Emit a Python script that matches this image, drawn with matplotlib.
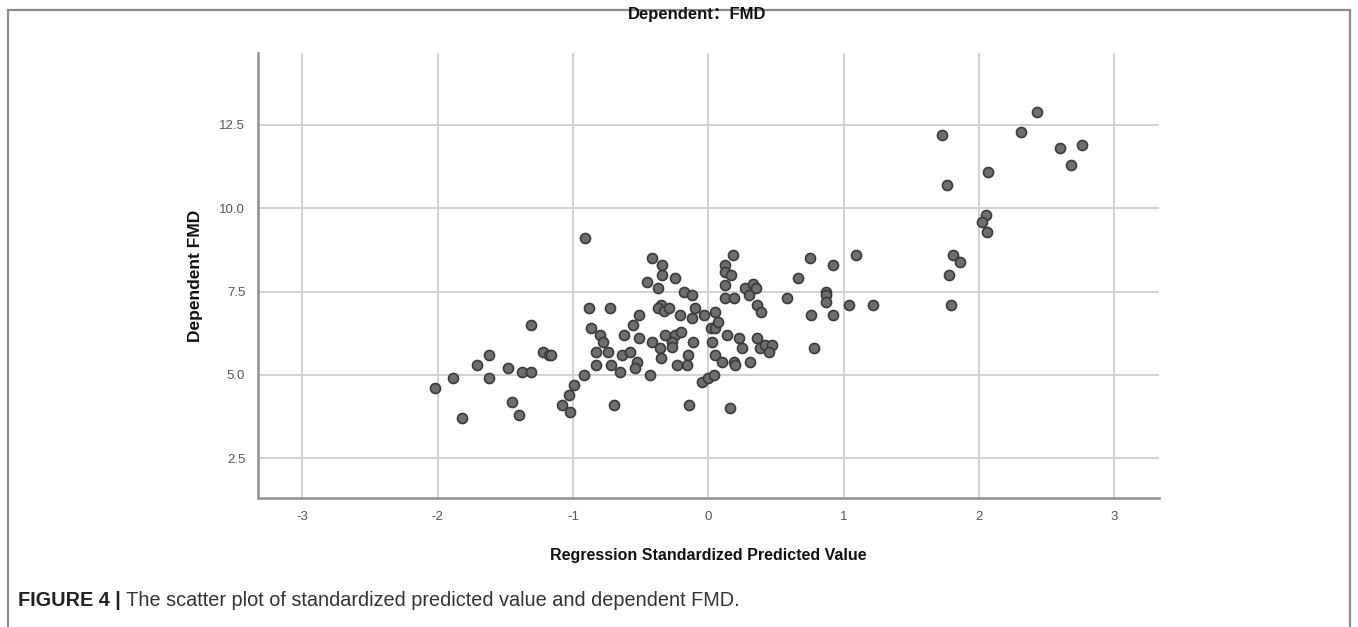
import matplotlib
matplotlib.use("Agg")
import matplotlib.pyplot as plt
from matplotlib.patches import Rectangle

# ---- data ----
pred_x = [
    -2.02, -1.89, -1.82, -1.71, -1.62, -1.62, -1.48, -1.45, -1.40, -1.38,
    -1.31, -1.31, -1.22, -1.18, -1.16, -1.08, -1.03, -1.02, -0.99, -0.92,
    -0.88, -0.87, -0.83, -0.83, -0.80, -0.78, -0.74, -0.73, -0.72, -0.70,
    -0.91,
    -0.42, -0.34, -0.34, -0.25, -0.45, -0.37, -0.18, -0.12, -0.35, -0.37,
    -0.33, -0.29, -0.10, -0.51, -0.21, -0.12, -0.03, 0.05, -0.56, -0.62,
    -0.51, -0.42, -0.32, -0.25, -0.20, -0.27, -0.27, -0.11, 0.02, 0.05,
    0.03, -0.36, -0.64, -0.58, -0.35, -0.15, -0.53, -0.54, -0.65, -0.43,
    -0.23, -0.16, 0.05, -0.05, 0.00, 0.04, -0.14,
    0.18, 0.12, 0.12, 0.17, 0.12, 0.75, 0.66, 0.27, 0.33, 0.35,
    0.30, 0.12, 0.19, 0.58, 0.36, 0.39, 0.07, 0.76, 0.14, 0.23,
    0.36, 0.25, 0.38, 0.42, 0.47, 0.45, 0.78, 0.10, 0.19, 0.20,
    0.31, 0.16,
    1.09, 0.92, 0.87, 0.87, 0.87, 1.04, 1.22, 0.92,
    2.43, 1.73, 2.31, 2.60, 2.76, 2.68, 2.07, 1.76, 2.05, 2.02,
    2.06, 1.81, 1.86, 1.78, 1.79,
]
fmd_y = [
    4.6, 4.9, 3.7, 5.3, 5.6, 4.9, 5.2, 4.2, 3.8, 5.1,
    5.1, 6.5, 5.7, 5.6, 5.6, 4.1, 4.4, 3.9, 4.7, 5.0,
    7.0, 6.4, 5.7, 5.3, 6.2, 6.0, 5.7, 7.0, 5.3, 4.1,
    9.1,
    8.5, 8.3, 8.0, 7.9, 7.8, 7.6, 7.5, 7.4, 7.1, 7.0,
    6.93, 7.0, 7.0, 6.8, 6.8, 6.7, 6.8, 6.9, 6.5, 6.2,
    6.1, 6.0, 6.2, 6.2, 6.3, 6.0, 5.85, 6.0, 6.4, 6.4,
    6.0, 5.8, 5.6, 5.7, 5.5, 5.6, 5.4, 5.2, 5.1, 5.0,
    5.3, 5.3, 5.6, 4.8, 4.9, 5.0, 4.1,
    8.6, 8.3, 8.1, 8.0, 7.7, 8.5, 7.9, 7.6, 7.72, 7.6,
    7.4, 7.3, 7.3, 7.3, 7.1, 6.9, 6.6, 6.8, 6.2, 6.1,
    6.1, 5.8, 5.8, 5.9, 5.9, 5.7, 5.8, 5.4, 5.4, 5.3,
    5.4, 4.0,
    8.6, 8.3, 7.5, 7.4, 7.2, 7.1, 7.1, 6.8,
    12.9, 12.2, 12.3, 11.8, 11.9, 11.3, 11.1, 10.7, 9.8, 9.6,
    9.3, 8.6, 8.4, 8.0, 7.1,
]
x_ticks = [-3, -2, -1, 0, 1, 2, 3]
y_ticks = [2.5, 5.0, 7.5, 10.0, 12.5]
y_tick_labels = ["2.5", "5.0", "7.5", "10.0", "12.5"]

title_text = "Dependent\uff1aFMD"
x_label = "Regression Standardized Predicted Value"
y_label = "Dependent FMD"
caption_bold = "FIGURE 4 |"
caption_rest = " The scatter plot of standardized predicted value and dependent FMD."

fam = ["Liberation Sans", "Noto Sans CJK SC", "DejaVu Sans"]
plt.rcParams["font.family"] = fam

fig = plt.figure(figsize=(13.58, 6.27), dpi=100)
fig.patch.set_facecolor("white")

# outer frame of the figure panel
fig.patches.append(Rectangle((8 / 1358, -0.05), (1350 - 8) / 1358, (627 - 10) / 627 + 0.05,
                             transform=fig.transFigure, fill=False,
                             edgecolor="#8c8c8c", linewidth=1.6))

ax = fig.add_axes([257.7 / 1358, (627 - 497.5) / 627, (1159 - 257.7) / 1358, (497.5 - 53.3) / 627])
ax.set_xlim(-3.33, 3.33)
ax.set_ylim(1.325, 14.65)

ax.grid(True, color="#d2d2d2", linewidth=1.4)
ax.set_axisbelow(True)

ax.scatter(pred_x, fmd_y, s=52, facecolor="#6e6e6e", edgecolor="#3a3a3a",
           linewidth=1.2, zorder=3)

for side in ["top", "right"]:
    ax.spines[side].set_visible(False)
for side in ["left", "bottom"]:
    ax.spines[side].set_color("#8f8f8f")
    ax.spines[side].set_linewidth(1.8)

ax.set_xticks(x_ticks)
ax.set_xticklabels([str(v) for v in x_ticks])
ax.set_yticks(y_ticks)
ax.set_yticklabels(y_tick_labels)
ax.tick_params(axis="both", length=0, labelsize=9.5, labelcolor="#555555")
ax.tick_params(axis="x", pad=10)
ax.tick_params(axis="y", pad=9)

ax.set_xlabel(x_label, fontsize=11.5, fontweight="bold", color="#111111", labelpad=18)
ax.set_ylabel(y_label, fontsize=12.5, fontweight="bold", color="#111111", labelpad=12)

fig.text(0.513, 1 - 14 / 627, title_text, ha="center", va="center",
         fontsize=12, fontweight="bold", color="#111111")

cap_size = 14.3
t1 = fig.text(18 / 1358, 1 - 601 / 627, caption_bold, ha="left", va="center",
              fontsize=cap_size, fontweight="bold", color="#222222")
fig.canvas.draw()
bb = t1.get_window_extent()
fig.text(bb.x1 / 1358, 1 - 601 / 627, caption_rest, ha="left", va="center",
         fontsize=cap_size, color="#333333")

fig.savefig("out.png", dpi=100, facecolor="white")
